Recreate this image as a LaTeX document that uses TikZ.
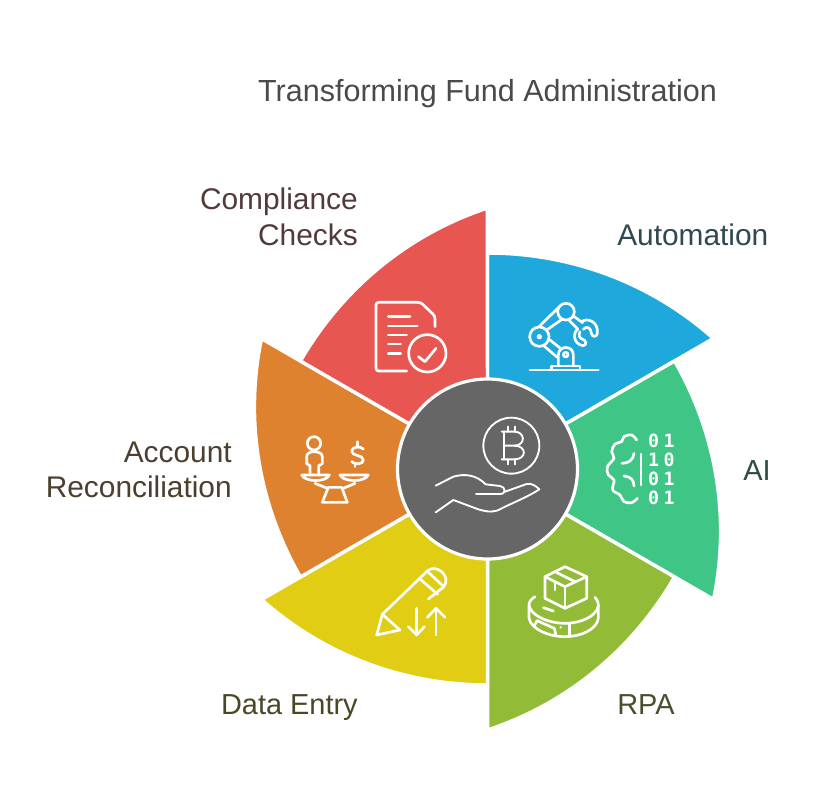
\documentclass[tikz,border=0pt]{standalone}
\usepackage{fontspec}
\setmainfont{Liberation Sans}
\newfontfamily\digitfont[LetterSpace=24]{DejaVu Sans Mono}
\definecolor{cred}{HTML}{E75651}
\definecolor{cblue}{HTML}{1EA8DB}
\definecolor{cgreen}{HTML}{3FC585}
\definecolor{colive}{HTML}{92BC38}
\definecolor{cyellow}{HTML}{E0CD14}
\definecolor{corange}{HTML}{DE822F}
\definecolor{chub}{HTML}{666666}
\definecolor{ttitle}{HTML}{4A4A4A}
\definecolor{tred}{HTML}{53393A}
\definecolor{tblue}{HTML}{2F4852}
\definecolor{tgreen}{HTML}{2C4D40}
\definecolor{tolive}{HTML}{474F2C}
\definecolor{tyellow}{HTML}{4B4725}
\definecolor{torange}{HTML}{4C3F30}
\newcommand{\petal}[2]{%
  \filldraw[fill=#2,draw=white,line width=2.6pt,line join=miter,miter limit=3]
   (487.5,469) -- plot[domain=0:1,samples=40,variable=\t]
   ({487.5+(216+45*\t*\t)*cos(#1-60*\t)},{469-(216+45*\t*\t)*sin(#1-60*\t)}) -- cycle;}
\tikzset{
  ico/.style={draw=white,line width=2pt,line cap=round,line join=round},
  icothin/.style={draw=white,line width=1.4pt,line cap=round,line join=round},
  lab/.style={font=\fontsize{22.4}{26.6}\selectfont,inner sep=0pt},
  labsmall/.style={font=\fontsize{21.7}{26.6}\selectfont,inner sep=0pt},
  labtitle/.style={font=\fontsize{22.9}{27}\selectfont,inner sep=0pt},
  digits/.style={font=\digitfont\bfseries\fontsize{13.7}{14}\selectfont,text=white,inner sep=0pt},
  zoomed/.style={x=0.25pt,y=-0.25pt}
}
\begin{document}
\begin{tikzpicture}[x=0.75pt,y=-0.75pt]
\useasboundingbox (0,0) rectangle (813,805);
\fill[white] (0,0) rectangle (813,805);
\petal{90}{cblue}
\petal{30}{cgreen}
\petal{-30}{colive}
\petal{-90}{cyellow}
\petal{-150}{corange}
\petal{150}{cred}
\node[circle,fill=chub,draw=white,line width=2.4pt,minimum size=135pt,inner sep=0pt] (hub) at (487.5,469) {};

\node[labtitle,text=ttitle,anchor=base] (title) at (487.5,102) {Transforming Fund Administration};
\node[lab,text=tred,anchor=east,align=right] (compliance) at (358,217) {Compliance\\Checks};
\node[lab,text=tblue,anchor=base west] (automation) at (617,246) {Automation};
\node[labsmall,text=tgreen,anchor=base west] (ai) at (743,480) {AI};
\node[labsmall,text=tolive,anchor=base west] (rpa) at (617,714) {RPA};
\node[labsmall,text=tyellow,anchor=base east] (dataentry) at (358,714) {Data Entry};
\node[lab,text=torange,anchor=east,align=right] (account) at (232,470) {Account\\Reconciliation};

% robot arm
\begin{scope}[shift={(500,280)},zoomed]
\draw[ico] (90,270) -- (295,270);
\draw[ico] (155,268) -- (155,258) -- (240,258) -- (240,268);
\draw[ico] (175,258) -- (175,225) .. controls (175,195) and (220,195) .. (220,225) -- (220,258);
\draw[ico] (197,224) circle (7);
\draw[ico] (118,170) circle (29);
\fill[white] (118,170) circle (8);
\draw[ico] (198,95) circle (25);
\draw[ico] (116,141) -- (178,80);
\draw[ico] (140,150) -- (186,118);
\draw[ico] (132,198) -- (172,232);
\draw[ico] (150,180) -- (185,208);
\draw[ico] (220,108) -- (248,128);
\draw[ico] (208,122) -- (234,148);
\draw[ico] (245,125) .. controls (262,112) and (296,125) .. (292,160) .. controls (290,172) and (276,172) .. (274,160) .. controls (274,145) and (260,135) .. (250,148);
\draw[ico] (232,148) .. controls (215,165) and (225,195) .. (250,197) .. controls (262,195) and (258,180) .. (248,178) .. controls (238,175) and (235,165) .. (240,155);
\end{scope}

% brain and binary digits
\begin{scope}[shift={(500,280)},zoomed]
\draw[ico] plot[smooth,tension=0.6] coordinates {(410,480) (395,465) (372,470) (365,485) (345,492) (335,515) (342,535) (322,560) (325,585) (342,600) (338,630) (360,645) (372,665) (395,668) (412,655)};
\draw[ico] (366,550) .. controls (385,550) and (400,540) .. (402,520);
\draw[ico] (372,588) .. controls (392,590) and (402,600) .. (402,618);
\draw[ico] (423,522) -- (423,615);
\node[digits] (d1) at (484,483) {01};
\node[digits] (d2) at (484,540) {10};
\node[digits] (d3) at (484,597) {01};
\node[digits] (d4) at (484,653) {01};
\end{scope}

% document with check
\begin{scope}[shift={(360,290)},zoomed]
\draw[ico,rounded corners=2pt] (225,110) -- (225,78) -- (182,37) -- (48,37) -- (48,243) -- (140,243);
\draw[ico] (85,80) -- (150,80);
\draw[ico] (85,108) -- (172,108);
\draw[ico] (85,135) -- (140,135);
\draw[ico] (85,162) -- (122,162);
\draw[ico] (85,190) -- (122,190);
\draw[ico] (202,190) circle (56);
\draw[ico] (175,200) -- (195,215) -- (228,175);
\end{scope}

% scales
\begin{scope}[shift={(290,425)},zoomed]
\draw[ico] (72,55) circle (20);
\draw[ico] (60,150) -- (60,122) -- (50,116) -- (50,95) .. controls (50,85) and (60,80) .. (72,80) .. controls (85,80) and (97,85) .. (97,95) -- (97,116) -- (86,122) -- (86,150);
\draw[ico] (35,150) -- (118,150) .. controls (110,172) and (45,172) .. (35,150);
\draw[ico] (150,150) -- (235,150) .. controls (225,172) and (160,172) .. (150,150);
\draw[ico] (75,175) -- (112,190);
\draw[ico] (195,175) -- (160,190);
\draw[ico] (97,232) -- (115,187) -- (155,187) -- (172,232) -- cycle;
\draw[ico] (220,72) .. controls (212,62) and (185,65) .. (185,78) .. controls (185,95) and (220,88) .. (220,105) .. controls (220,118) and (195,120) .. (185,110);
\draw[ico] (203,50) -- (203,62);
\draw[ico] (195,118) -- (195,125);
\end{scope}

% pencil and arrows
\begin{scope}[shift={(365,555)},zoomed]
\draw[ico] (52,178) -- (35,240) -- (105,225) -- cycle;
\draw[ico] (52,178) -- (188,47) .. controls (215,25) and (262,65) .. (235,97) -- (190,132);
\draw[ico] (165,72) -- (218,118);
\draw[ico] (188,50) -- (236,95);
\draw[ico] (155,160) -- (155,240);
\draw[ico] (130,215) -- (155,240) -- (178,215);
\draw[ico] (213,160) -- (213,240);
\draw[ico] (187,187) -- (213,160) -- (240,187);
\end{scope}

% box on turntable
\begin{scope}[shift={(515,555)},zoomed]
\draw[ico] (90,65) -- (150,35) -- (215,65) -- (150,95) -- cycle;
\draw[ico] (90,65) -- (90,130) -- (150,160) -- (215,130) -- (215,65);
\draw[ico] (150,95) -- (150,160);
\draw[ico] (120,50) -- (180,80);
\draw[ico] (120,80) -- (120,105);
\draw[ico] (60,125) .. controls (48,132) and (42,140) .. (42,152) -- (42,190) .. controls (50,225) and (105,245) .. (150,245) .. controls (195,245) and (245,225) .. (250,190) -- (250,152) .. controls (250,140) and (245,132) .. (240,127);
\draw[ico] (42,152) .. controls (50,185) and (105,205) .. (150,205) .. controls (195,205) and (245,185) .. (250,152);
\draw[ico] (85,158) -- (115,168);
\draw[ico] (58,212) -- (66,197) -- (118,220) -- (122,238);
\draw[ico] (163,205) -- (163,243);
\fill[white] (137,217) circle (4);
\end{scope}

% hand with coin
\begin{scope}[shift={(395,375)},zoomed]
\draw[icothin] (349,212) circle (84);
\draw[icothin] (320,170) -- (358,170) .. controls (392,170) and (392,212) .. (358,212) -- (326,212);
\draw[icothin] (358,212) .. controls (396,212) and (396,253) .. (358,253) -- (320,253);
\draw[icothin] (326,170) -- (326,253);
\draw[icothin] (338,155) -- (338,170);
\draw[icothin] (360,155) -- (360,170);
\draw[icothin] (338,253) -- (338,268);
\draw[icothin] (360,253) -- (360,268);
\draw[icothin] (122,332) -- (175,305) .. controls (210,295) and (245,300) .. (272,328) -- (315,333) .. controls (332,335) and (335,357) .. (315,357) -- (243,357);
\draw[icothin] (330,350) -- (395,327) .. controls (410,323) and (425,335) .. (433,343) .. controls (400,365) and (350,385) .. (320,400) .. controls (300,413) and (280,412) .. (250,403) -- (175,375) -- (122,412);
\end{scope}
\end{tikzpicture}
\end{document}
